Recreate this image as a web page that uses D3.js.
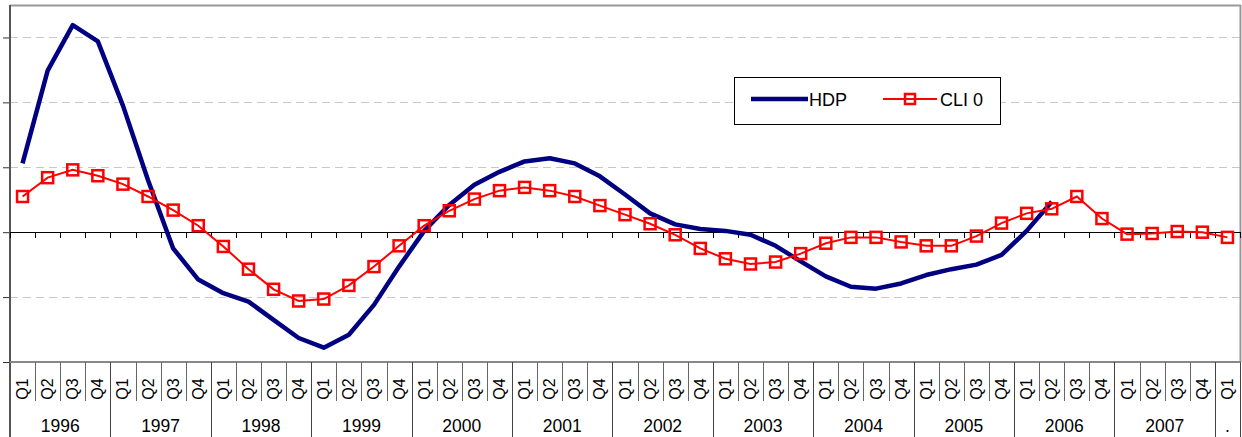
<!DOCTYPE html>
<html>
<head>
<meta charset="utf-8">
<script src="https://cdn.jsdelivr.net/npm/d3@7"></script>
<style>
html,body{margin:0;padding:0;background:#fff;}
svg{display:block;font-family:"Liberation Sans",Arial,sans-serif;}
</style>
</head>
<body>
<svg id="chart" width="1242" height="437"></svg>
<script>
const years = ["1996","1997","1998","1999","2000","2001","2002","2003","2004","2005","2006","2007","."];
const quarters = ["Q1","Q2","Q3","Q4"];
// 49 categories: 1996Q1 .. 2007Q4 plus one extra Q1
const categories = [];
years.forEach((yr, yi) => {
  const qs = yi < years.length - 1 ? quarters : ["Q1"];
  qs.forEach(q => categories.push({year: yr, q: q, key: yr + q}));
});

const hdp = [1.06, 2.49, 3.19, 2.94, 1.95, 0.80, -0.25, -0.73,
  -0.94, -1.07, -1.35, -1.63, -1.78, -1.58, -1.12, -0.53,
  0.02, 0.42, 0.73, 0.93, 1.09, 1.14, 1.06, 0.86,
  0.58, 0.29, 0.12, 0.05, 0.02, -0.04, -0.21, -0.45,
  -0.68, -0.84, -0.87, -0.79, -0.66, -0.57, -0.50, -0.35,
  0.02, 0.47];
const cli = [0.55, 0.84, 0.96, 0.87, 0.74, 0.55, 0.34, 0.10,
  -0.22, -0.57, -0.88, -1.06, -1.03, -0.82, -0.53, -0.21,
  0.10, 0.33, 0.51, 0.64, 0.69, 0.64, 0.55, 0.41,
  0.27, 0.13, -0.04, -0.25, -0.41, -0.49, -0.46, -0.33,
  -0.17, -0.08, -0.08, -0.15, -0.21, -0.21, -0.06, 0.14,
  0.29, 0.36, 0.55, 0.21, -0.03, -0.02, 0.01, 0.00,
  -0.08];
const yTicks = [-2, -1, 0, 1, 2, 3];
const seriesNames = ["HDP", "CLI 0"];

(function draw() {
const svg = d3.select("#chart");
const pL = 10, pR = 1240, pT = 5, pB = 362;

const x = d3.scaleBand().domain(categories.map(d => d.key)).range([pL, pR]).padding(0);
const y = d3.scaleLinear().domain([-2, 3.5]).range([pB, pT]);
const cx = k => x(k) + x.bandwidth() / 2;

// gridlines
svg.append("g").selectAll("line").data(yTicks.filter(v => v !== 0 && v !== -2)).join("line")
  .attr("x1", pL).attr("x2", pR)
  .attr("y1", d => Math.round(y(d)) + 0.5).attr("y2", d => Math.round(y(d)) + 0.5)
  .attr("stroke", "#c8c8c8").attr("stroke-width", 1).attr("stroke-dasharray", "8,5");

// plot border top & right
svg.append("line").attr("x1", pL).attr("x2", pR + 1).attr("y1", pT + 0.5).attr("y2", pT + 0.5)
  .attr("stroke", "#999").attr("stroke-width", 2);
svg.append("line").attr("x1", pR + 0.5).attr("x2", pR + 0.5).attr("y1", pT).attr("y2", pB)
  .attr("stroke", "#999").attr("stroke-width", 2);

// y axis (no labels)
const yAxis = d3.axisLeft(y).tickValues(yTicks).tickSize(7).tickFormat("");
const gy = svg.append("g").attr("transform", `translate(${pL},0)`).call(yAxis);
gy.select(".domain").remove();
gy.selectAll(".tick line").attr("stroke", "#333");
svg.append("line").attr("x1", pL).attr("x2", pL).attr("y1", pT).attr("y2", 437)
  .attr("stroke", "#555").attr("stroke-width", 2);

// zero line with ticks at category boundaries
const boundaries = categories.map(d => x(d.key)).concat([pR]);
svg.append("line").attr("x1", pL).attr("x2", pR).attr("y1", Math.round(y(0)) + 0.5).attr("y2", Math.round(y(0)) + 0.5)
  .attr("stroke", "#000").attr("stroke-width", 1);
svg.append("g").selectAll("line").data(boundaries).join("line")
  .attr("x1", d => Math.round(d) + 0.5).attr("x2", d => Math.round(d) + 0.5)
  .attr("y1", Math.round(y(0))).attr("y2", Math.round(y(0)) + 6)
  .attr("stroke", "#000").attr("stroke-width", 1);

// bottom axis line
svg.append("line").attr("x1", pL).attr("x2", pR + 1).attr("y1", pB).attr("y2", pB)
  .attr("stroke", "#888").attr("stroke-width", 2);

// category axis
const xAxis = d3.axisBottom(x).tickSize(0).tickFormat("");
const gx = svg.append("g").attr("transform", `translate(0,${pB})`).call(xAxis);
gx.select(".domain").remove();

const yearStarts = categories.filter(d => d.q === "Q1").map(d => x(d.key)).concat([pR]);
svg.append("g").selectAll("line").data(boundaries.filter(b => !yearStarts.some(s => Math.abs(s - b) < 0.01))).join("line")
  .attr("x1", d => Math.round(d) + 0.5).attr("x2", d => Math.round(d) + 0.5)
  .attr("y1", pB).attr("y2", 401)
  .attr("stroke", "#666").attr("stroke-width", 1);
svg.append("g").selectAll("line").data(yearStarts.filter(s => s > pL + 1)).join("line")
  .attr("x1", d => Math.round(d) + 0.5).attr("x2", d => Math.round(d) + 0.5)
  .attr("y1", pB).attr("y2", 437)
  .attr("stroke", "#444").attr("stroke-width", 1);

// quarter labels
svg.append("g").selectAll("text").data(categories).join("text")
  .attr("transform", d => `translate(${cx(d.key) + 5.5},389) rotate(-90)`)
  .attr("text-anchor", "middle")
  .attr("font-size", 16).attr("fill", "#000")
  .text(d => d.q);

// year labels
const yearGroups = years.map(yr => {
  const cs = categories.filter(c => c.year === yr);
  const x0 = x(cs[0].key), x1 = x(cs[cs.length - 1].key) + x.bandwidth();
  return {year: yr, mid: (x0 + x1) / 2};
});
svg.append("g").selectAll("text").data(yearGroups).join("text")
  .attr("x", d => d.mid).attr("y", 432)
  .attr("text-anchor", "middle").attr("font-size", 17.5).attr("fill", "#000")
  .text(d => d.year);

// lines
const hdpData = hdp.map((v, i) => ({k: categories[i].key, v}));
const cliData = cli.map((v, i) => ({k: categories[i].key, v}));
const line = d3.line().x(d => cx(d.k)).y(d => y(d.v));

svg.append("path").datum(hdpData).attr("d", line)
  .attr("fill", "none").attr("stroke", "#000080").attr("stroke-width", 4.5)
  .attr("stroke-linejoin", "round");

svg.append("path").datum(cliData).attr("d", line)
  .attr("fill", "none").attr("stroke", "#ff0000").attr("stroke-width", 2);
const ms = 11;
svg.append("g").selectAll("rect").data(cliData).join("rect")
  .attr("x", d => cx(d.k) - ms / 2).attr("y", d => y(d.v) - ms / 2)
  .attr("width", ms).attr("height", ms)
  .attr("fill", "none").attr("stroke", "#ff0000").attr("stroke-width", 2.5);

// legend
const lg = svg.append("g");
lg.append("rect").attr("x", 734.5).attr("y", 77.5).attr("width", 266).attr("height", 47)
  .attr("fill", "#fff").attr("stroke", "#000").attr("stroke-width", 1);
lg.append("line").attr("x1", 751).attr("x2", 808).attr("y1", 99).attr("y2", 99)
  .attr("stroke", "#000080").attr("stroke-width", 4.5);
lg.append("text").attr("x", 809).attr("y", 106).attr("font-size", 18).text(seriesNames[0]);
lg.append("line").attr("x1", 883).attr("x2", 937).attr("y1", 99).attr("y2", 99)
  .attr("stroke", "#ff0000").attr("stroke-width", 2);
lg.append("rect").attr("x", 910 - 5).attr("y", 99 - 5).attr("width", 10).attr("height", 10)
  .attr("fill", "none").attr("stroke", "#ff0000").attr("stroke-width", 2.5);
lg.append("text").attr("x", 940).attr("y", 106).attr("font-size", 18).text(seriesNames[1]);
})();
</script>
</body>
</html>
